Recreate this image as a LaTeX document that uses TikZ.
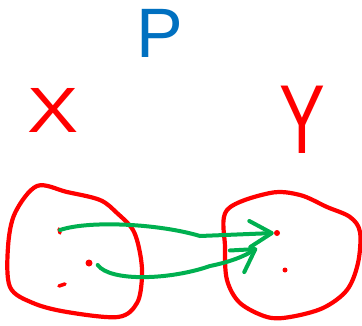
\documentclass[tikz,border=0pt]{standalone}
\usepackage{fontspec}
\setsansfont{Liberation Sans}
\usetikzlibrary{arrows.meta,positioning}
\definecolor{skRed}{HTML}{FF0000}
\definecolor{skGreen}{HTML}{00B050}
\definecolor{skBlue}{HTML}{0070C0}
\tikzset{
  blob/.style={draw=skRed, line width=4.2pt, line join=round},
  pt/.style={circle, fill=skRed, inner sep=0pt, minimum size=#1},
  tick/.style={draw=skRed, line width=3.5pt, line cap=round},
  maparrow/.style={draw=skGreen, line width=4pt, line cap=round,
    -{Straight Barb[length=22pt, width=26pt, round]}},
  letter/.style={font=\fontsize{#1}{#1}\selectfont\sffamily, inner sep=0pt}
}
\begin{document}
\begin{tikzpicture}[x=1pt, y=-1pt]
  \useasboundingbox (0,0) rectangle (362,325);
  % labels
  \node[letter=70, text=skBlue] (p) at (160,33) {P};
  \node[letter=64, text=skRed, xscale=1.2] (xl) at (53,110) {X};
  \node[letter=98, text=skRed, xscale=0.7] (yl) at (302,120) {Y};
  % the two sets
  \draw[blob] plot[smooth cycle, tension=0.55] coordinates {
    (37,186) (67,192) (100,200) (117,213) (133,230) (140,253) (142,277)
    (137,303) (118,317) (67,312) (33,303) (10,287) (8,247) (15,213)};
  \draw[blob] plot[smooth cycle, tension=0.55] coordinates {
    (227,210) (270,193) (300,195) (327,207) (350,217) (360,232) (358,263)
    (347,290) (323,308) (290,317) (267,317) (240,303) (227,280) (225,247)};
  % points
  \coordinate (a1) at (60,230);
  \draw[tick] (59,229) -- (60,233);
  \node[pt=7pt] (a2) at (89,263) {};
  \draw[tick] (59,286) -- (65,284);
  \node[pt=6pt] (b1) at (277,233) {};
  \node[pt=5pt] (b2) at (285,270) {};
  \coordinate (b3) at (257,248);
  % mappings
  \draw[maparrow] (a1) .. controls (90,220) and (160,224) .. (200,236)
    -- (b1.west);
  \draw[maparrow] (a2.east) ++(5,2) .. controls (110,282) and (170,280)
    .. (210,266) .. controls (230,262) and (245,256) .. (b3);
\end{tikzpicture}
\end{document}
